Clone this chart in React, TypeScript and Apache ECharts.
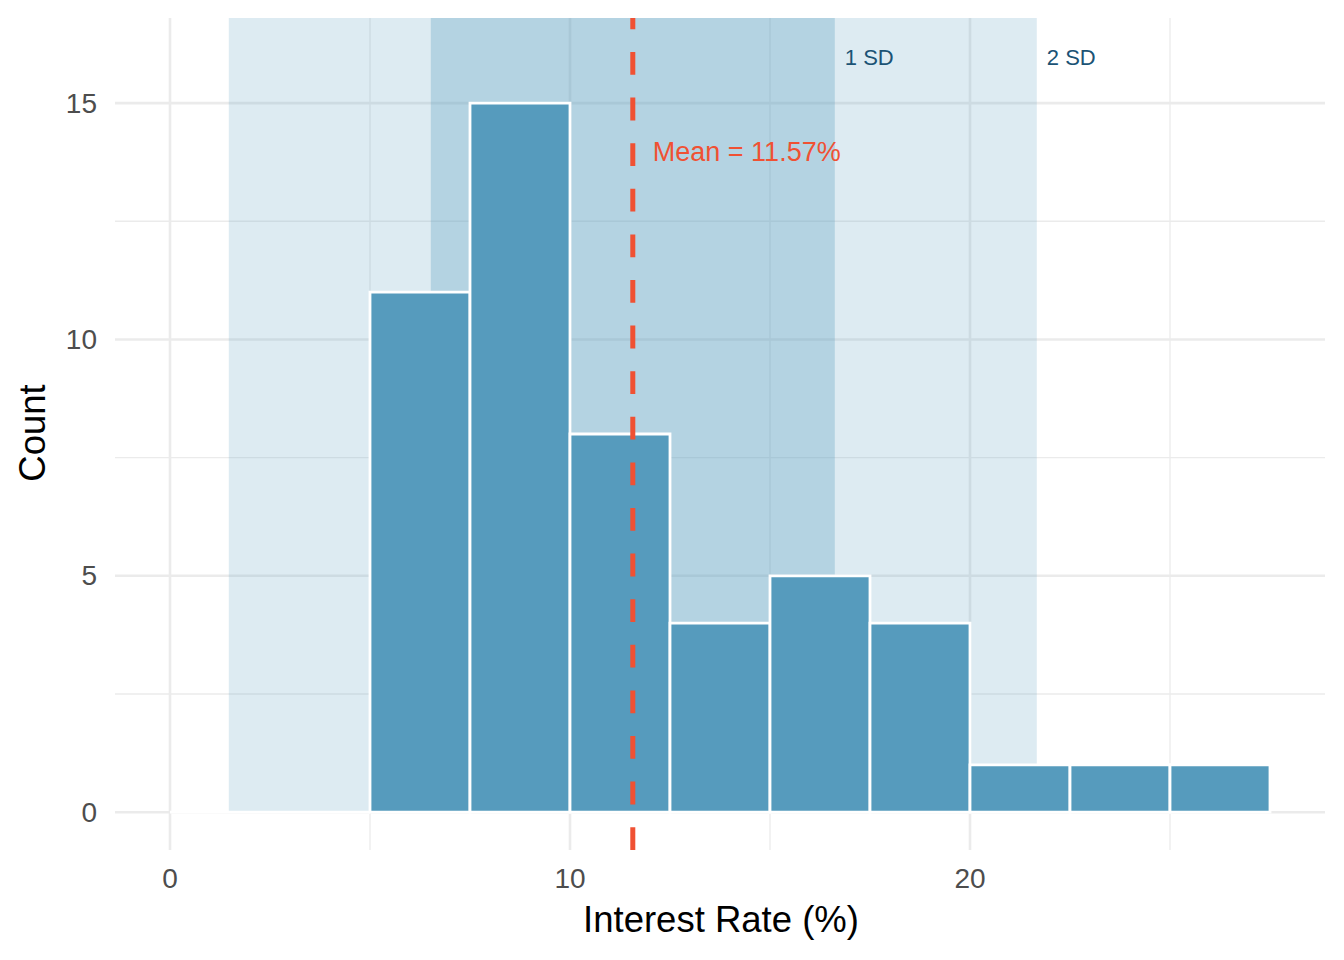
import React, { useEffect, useRef } from "react";
import * as echarts from "echarts";

// ---- data ----
const binStarts = [0, 2.5, 5, 7.5, 10, 12.5, 15, 17.5, 20, 22.5, 25];
const binWidth = 2.5;
const counts = [0, 0, 11, 15, 8, 4, 5, 4, 1, 1, 1];
const meanRate = 11.57;
const sdRate = 5.05;
const xMajorTicks = [0, 10, 20];
const xMinorTicks = [5, 15, 25];
const yMajorTicks = [0, 5, 10, 15];
const yMinorTicks = [2.5, 7.5, 12.5];
const sdLabels = ["1 SD", "2 SD"];
const sdLabelY = 16;
const meanLabelY = 14;
const xTitle = "Interest Rate (%)";
const yTitle = "Count";

const FONT = '"Liberation Sans", Arial, Helvetica, sans-serif';

export default function App() {
  const ref = useRef<HTMLDivElement>(null);

  useEffect(() => {
    const chart = echarts.init(ref.current!, null, { renderer: "svg" });

    const X_MIN = -1.375;
    const X_MAX = 28.875;
    const Y_MIN = -0.8;
    const Y_MAX = 16.8;

    // gridline specs: [orientation (0 = vertical, 1 = horizontal), value, major?]
    const gridData = [
      ...xMinorTicks.map((v) => [0, v, 0]),
      ...yMinorTicks.map((v) => [1, v, 0]),
      ...xMajorTicks.map((v) => [0, v, 1]),
      ...yMajorTicks.map((v) => [1, v, 1]),
    ];

    const bandData = [
      [meanRate - 2 * sdRate, meanRate + 2 * sdRate],
      [meanRate - sdRate, meanRate + sdRate],
    ];

    const barData = binStarts.map((s, i) => [s, s + binWidth, counts[i]]);

    const labelData = [
      [meanRate + sdRate + 0.25, sdLabelY, 0],
      [meanRate + 2 * sdRate + 0.25, sdLabelY, 1],
    ];

    const option: any = {
      animation: false,
      grid: { left: 115, top: 18, width: 1210, height: 832, containLabel: false },
      xAxis: {
        type: "value",
        min: X_MIN,
        max: X_MAX,
        axisLine: { show: false },
        axisTick: { show: false },
        splitLine: { show: false },
        axisLabel: {
          customValues: xMajorTicks,
          fontSize: 28,
          color: "#4D4D4D",
          fontFamily: FONT,
          margin: 14,
        },
      },
      yAxis: {
        type: "value",
        min: Y_MIN,
        max: Y_MAX,
        axisLine: { show: false },
        axisTick: { show: false },
        splitLine: { show: false },
        axisLabel: {
          customValues: yMajorTicks,
          fontSize: 28,
          color: "#4D4D4D",
          fontFamily: FONT,
          margin: 18,
        },
      },
      graphic: [
        {
          type: "text",
          x: 721,
          y: 919,
          style: {
            text: xTitle,
            fontSize: 36.5,
            fontFamily: FONT,
            fill: "#000",
            align: "center",
            verticalAlign: "middle",
          },
        },
        {
          type: "text",
          x: 32,
          y: 433,
          rotation: Math.PI / 2,
          style: {
            text: yTitle,
            fontSize: 36.5,
            fontFamily: FONT,
            fill: "#000",
            align: "center",
            verticalAlign: "middle",
          },
        },
      ],
      series: [
        {
          type: "custom",
          z: 1,
          silent: true,
          data: gridData,
          renderItem: (params: any, api: any) => {
            const cs = params.coordSys;
            const orient = api.value(0);
            const v = api.value(1);
            const major = api.value(2);
            const w = major ? 2.6 : 1.3;
            if (orient === 0) {
              const p = api.coord([v, 0]);
              return {
                type: "line",
                shape: { x1: p[0], y1: cs.y, x2: p[0], y2: cs.y + cs.height },
                style: { stroke: "#EBEBEB", lineWidth: w },
              };
            }
            const p = api.coord([0, v]);
            return {
              type: "line",
              shape: { x1: cs.x, y1: p[1], x2: cs.x + cs.width, y2: p[1] },
              style: { stroke: "#EBEBEB", lineWidth: w },
            };
          },
        },
        {
          type: "custom",
          z: 2,
          silent: true,
          data: bandData,
          renderItem: (params: any, api: any) => {
            const cs = params.coordSys;
            const p0 = api.coord([api.value(0), 0]);
            const p1 = api.coord([api.value(1), 0]);
            return {
              type: "rect",
              shape: { x: p0[0], y: cs.y, width: p1[0] - p0[0], height: p0[1] - cs.y },
              style: {
                fill: params.dataIndex === 0 ? "rgba(86,155,189,0.2)" : "rgba(86,155,189,0.3)",
              },
            };
          },
        },
        {
          type: "custom",
          z: 3,
          silent: true,
          data: barData,
          renderItem: (params: any, api: any) => {
            const p0 = api.coord([api.value(0), api.value(2)]);
            const p1 = api.coord([api.value(1), 0]);
            return {
              type: "rect",
              shape: { x: p0[0], y: p0[1], width: p1[0] - p0[0], height: p1[1] - p0[1] },
              style: { fill: "#569BBD", stroke: "#FFFFFF", lineWidth: 2.8 },
            };
          },
        },
        {
          type: "custom",
          z: 4,
          silent: true,
          data: [[meanRate, meanLabelY]],
          renderItem: (params: any, api: any) => {
            const cs = params.coordSys;
            const m = api.value(0);
            const p = api.coord([m, 0]);
            const lp = api.coord([m + 0.5, api.value(1)]);
            return {
              type: "group",
              children: [
                {
                  type: "line",
                  shape: { x1: p[0], y1: cs.y + cs.height, x2: p[0], y2: cs.y },
                  style: { stroke: "#F05133", lineWidth: 5, lineDash: [22.8, 22.8] },
                },
                {
                  type: "text",
                  x: lp[0],
                  y: lp[1] + 2,
                  style: {
                    text: `Mean = ${meanRate.toFixed(2)}%`,
                    fontSize: 27,
                    fontFamily: FONT,
                    fill: "#F05133",
                    align: "left",
                    verticalAlign: "middle",
                  },
                },
              ],
            };
          },
        },
        {
          type: "custom",
          z: 5,
          silent: true,
          data: labelData,
          renderItem: (params: any, api: any) => {
            const p = api.coord([api.value(0), api.value(1)]);
            return {
              type: "text",
              x: p[0],
              y: p[1] + 1.5,
              style: {
                text: sdLabels[api.value(2)],
                fontSize: 22,
                fontFamily: FONT,
                fill: "#1B5375",
                align: "left",
                verticalAlign: "middle",
              },
            };
          },
        },
      ],
    };

    chart.setOption(option);
    return () => chart.dispose();
  }, []);

  return (
    <div
      ref={ref}
      style={{ position: "absolute", left: 0, top: 0, width: 1344, height: 960, background: "#fff" }}
    />
  );
}
